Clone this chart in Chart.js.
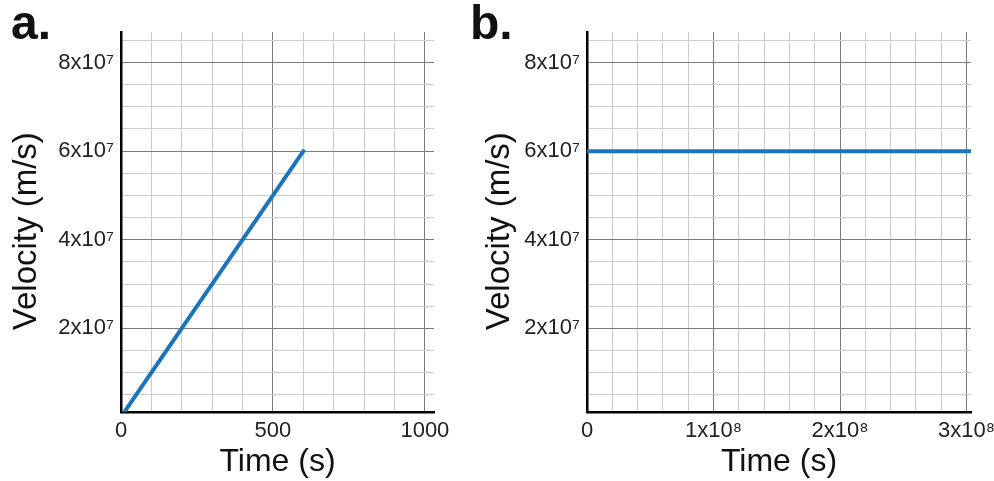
<!DOCTYPE html>
<html>
<head>
<meta charset="utf-8">
<script src="https://cdn.jsdelivr.net/npm/chart.js@4.4.0/dist/chart.umd.min.js"></script>
<style>
  body { margin: 0; width: 994px; height: 481px; background: #fff; position: relative; overflow: hidden; font-family: "Liberation Sans", Arial, sans-serif; }
  .panel { position: absolute; top: 0; height: 481px; }
  .letter { position: absolute; font-weight: bold; font-size: 48px; line-height: 1; color: #111; z-index: 2; }
</style>
</head>
<body>
<div class="letter" style="left:11px;top:-1px">a.</div>
<div class="letter" style="left:470px;top:-1px">b.</div>
<div class="panel" style="left:0;width:460px"><canvas id="chartA"></canvas></div>
<div class="panel" style="left:473px;width:521px"><canvas id="chartB"></canvas></div>

<script>
// panel a : accelerating
const timeA = [0, 600];
const velocityA = [0, 6e7];
// panel b : constant velocity
const timeB = [0, 3.03e8];
const velocityB = [6e7, 6e7];

// tick labels (only major ticks are labelled)
const xTicksA = [0, 500, 1000];
const xLabelsA = ['0', '500', '1000'];
const xTicksB = [0, 1e8, 2e8, 3e8];
const xLabelsB = ['0', '1x10⁸', '2x10⁸', '3x10⁸'];
const yTicks = [2e7, 4e7, 6e7, 8e7];
const yLabels = ['2x10⁷', '4x10⁷', '6x10⁷', '8x10⁷'];

const lineColor = '#1b75bb';
const majorGrid = '#7a7a7a';
const minorGrid = '#cccccc';
const fontFamily = '"Liberation Sans", Arial, sans-serif';

// grid positions every `step` from `from` to `to`
function gridValues(from, to, step) {
  const out = [];
  for (let i = 0; from + i * step <= to; i++) out.push(from + i * step);
  return out;
}

function labelFor(ticks, labels) {
  return (value) => {
    const i = ticks.indexOf(value);
    return i >= 0 ? labels[i] : '';
  };
}

function gridColor(major) {
  return (ctx) => {
    if (!ctx.tick) return minorGrid;
    return ctx.tick.value % major === 0 ? majorGrid : minorGrid;
  };
}

function makeScales(opts) {
  const xGrid = gridValues(0, opts.xLast, opts.xStep);
  const yGrid = gridValues(5e6, 8.5e7, 5e6);
  return {
    x: {
      type: 'linear',
      min: 0,
      max: opts.xMax,
      afterBuildTicks: (scale) => {
        scale.ticks = xGrid.map(v => ({ value: v }));
      },
      afterFit: (scale) => {
        scale.height = 69;
        scale.paddingLeft = 0;
        scale.paddingRight = 0;
      },
      border: { color: '#000', width: 2.5 },
      grid: { color: gridColor(opts.xMajor), drawTicks: false, lineWidth: 1 },
      ticks: {
        autoSkip: false,
        maxRotation: 0,
        padding: 6,
        color: '#222',
        font: { family: fontFamily, size: 22 },
        callback: labelFor(opts.xTicks, opts.xLabels)
      },
      title: {
        display: true,
        text: 'Time (s)',
        color: '#111',
        padding: { top: 0, bottom: 0 },
        font: { family: fontFamily, size: 32 }
      }
    },
    y: {
      type: 'linear',
      min: 1.1e6,
      max: 8.69e7,
      afterBuildTicks: (scale) => {
        scale.ticks = yGrid.map(v => ({ value: v }));
      },
      afterFit: (scale) => {
        scale.width = opts.yWidth;
        scale.paddingTop = 0;
        scale.paddingBottom = 0;
      },
      border: { color: '#000', width: 2.5 },
      grid: { color: gridColor(2e7), drawTicks: false, lineWidth: 1 },
      ticks: {
        autoSkip: false,
        padding: 7,
        color: '#222',
        font: { family: fontFamily, size: 22 },
        callback: labelFor(yTicks, yLabels)
      },
      title: {
        display: true,
        text: 'Velocity (m/s)\u00a0\u00a0',
        color: '#111',
        padding: { top: 7, bottom: 0 },
        font: { family: fontFamily, size: 33 }
      }
    }
  };
}

function createChart(canvas, times, velocities, opts) {
  return new Chart(canvas, {
    type: 'line',
    data: {
      datasets: [{
        data: times.map((t, i) => ({ x: t, y: velocities[i] })),
        borderColor: lineColor,
        borderWidth: 4,
        borderCapStyle: 'round',
        pointRadius: 0,
        tension: 0
      }]
    },
    options: {
      responsive: true,
      maintainAspectRatio: false,
      animation: false,
      layout: { padding: { top: 32, right: opts.padRight, left: 0, bottom: 0 } },
      plugins: { legend: { display: false }, tooltip: { enabled: false } },
      scales: makeScales(opts)
    }
  });
}

createChart(document.getElementById('chartA'), timeA, velocityA, {
  xMax: 1030, xLast: 1000, xStep: 100, xMajor: 500,
  xTicks: xTicksA, xLabels: xLabelsA,
  yWidth: 121, padRight: 26
});

createChart(document.getElementById('chartB'), timeB, velocityB, {
  xMax: 3.035e8, xLast: 3e8, xStep: 2e7, xMajor: 1e8,
  xTicks: xTicksB, xLabels: xLabelsB,
  yWidth: 114, padRight: 23
});
</script>
</body>
</html>
